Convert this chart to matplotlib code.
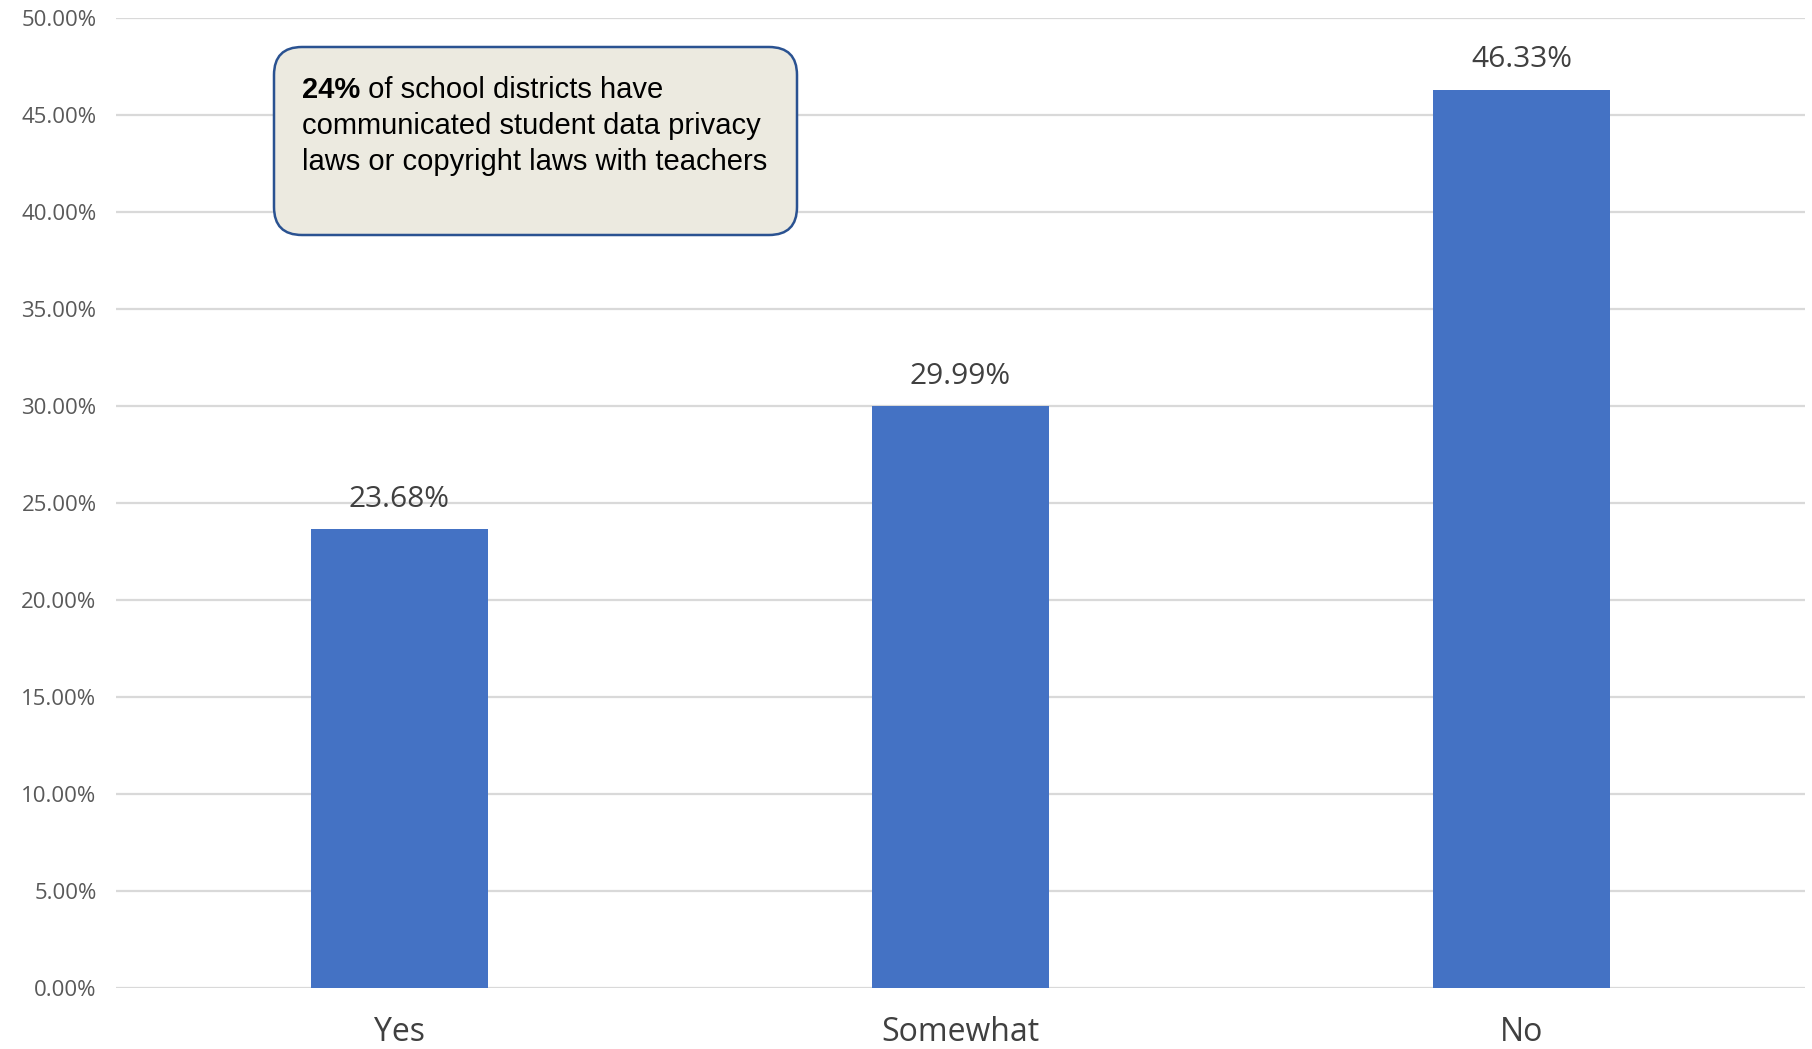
import numpy as np
import matplotlib.pyplot as plt
from matplotlib.patches import FancyBboxPatch
from matplotlib.transforms import IdentityTransform
from matplotlib.ticker import PercentFormatter

categories = ['Yes', 'Somewhat', 'No']
shares = [23.68, 29.99, 46.33]
y_ticks = np.arange(0, 50.01, 5)

bar_color = '#4472C4'
grid_color = '#D9D9D9'
label_color = '#404040'
tick_color = '#595959'

W, H = 1812, 1049
fig = plt.figure(figsize=(W / 100, H / 100), dpi=100)
ax = fig.add_axes([0.064, 0.058, 0.932, 0.9245])

x = np.arange(len(categories))
bars = ax.bar(x, shares, width=0.315, color=bar_color, zorder=3)

for rect, val in zip(bars, shares):
    ax.annotate(f'{val:.2f}%', xy=(rect.get_x() + rect.get_width() / 2, val),
                xytext=(0, 11), textcoords='offset points',
                ha='center', va='bottom', fontsize=21.5, color=label_color,
                family='Open Sans')

ax.set_xlim(-0.505, 2.505)
ax.set_ylim(0, 50)
ax.set_yticks(y_ticks)
ax.yaxis.set_major_formatter(PercentFormatter(decimals=2))
ax.set_xticks(x)
ax.set_xticklabels(categories, fontsize=23, color=label_color, family='Open Sans')
for lbl in ax.get_yticklabels():
    lbl.set_fontsize(16)
    lbl.set_color(tick_color)
    lbl.set_family('Open Sans')
ax.tick_params(axis='both', length=0)
ax.tick_params(axis='y', pad=14)
ax.tick_params(axis='x', pad=20)
ax.grid(axis='y', color=grid_color, linewidth=1.6, zorder=0)
for s in ax.spines.values():
    s.set_visible(False)

# callout box (pixel coords, origin bottom-left)
box = FancyBboxPatch((274, H - 235), 797 - 274, 235 - 47,
                     boxstyle='round,pad=0,rounding_size=28',
                     transform=IdentityTransform(), facecolor='#ECEAE0',
                     edgecolor='#2A5291', linewidth=1.8, zorder=5)
fig.patches.append(box)

tx, ty = 302 / W, 1 - 104 / H
t_bold = fig.text(tx, ty, '24%', fontsize=21, fontweight='bold',
                  family='Liberation Sans', va='bottom', zorder=6)
fig.canvas.draw()
bb = t_bold.get_window_extent()
fig.text(bb.x1 / fig.bbox.width, ty, ' of school districts have',
         fontsize=21, family='Liberation Sans', va='bottom', zorder=6)
fig.text(tx, ty - 36 / H, 'communicated student data privacy',
         fontsize=21, family='Liberation Sans', va='bottom', zorder=6)
fig.text(tx, ty - 72 / H, 'laws or copyright laws with teachers',
         fontsize=21, family='Liberation Sans', va='bottom', zorder=6)

fig.savefig('out.png', dpi=100)
